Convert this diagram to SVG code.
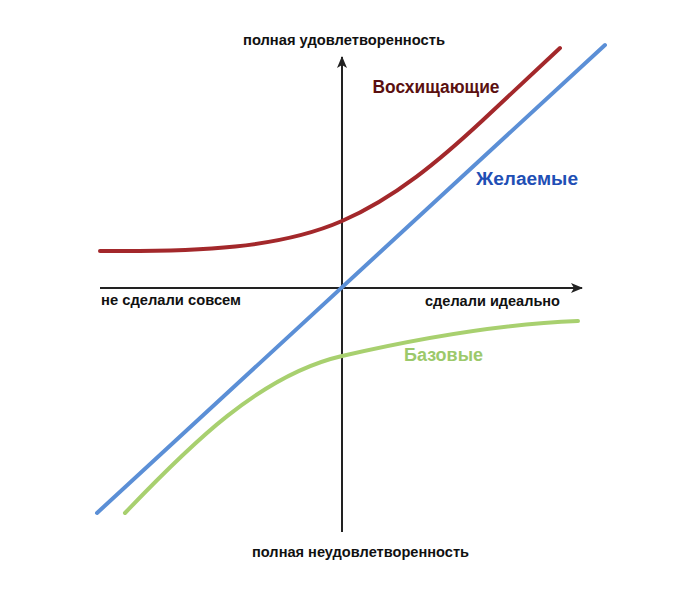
<svg xmlns="http://www.w3.org/2000/svg" width="700" height="590" viewBox="0 0 700 590">
<style>
.ax{font-family:"Liberation Sans",Arial,sans-serif;font-size:14.5px;font-weight:bold;fill:#111}
.lbl{font-family:"Liberation Sans",Arial,sans-serif;font-size:17.5px;font-weight:bold}
.axis{stroke:#222;stroke-width:2;fill:none}
.curve{fill:none;stroke-width:4;stroke-linecap:round}
</style>
<defs>
<marker id="arr" viewBox="0 0 12 10" refX="11" refY="5" markerWidth="12" markerHeight="10" markerUnits="userSpaceOnUse" orient="auto">
<path d="M0,0 L12,5 L0,10 L3,5 Z" fill="#222"/>
</marker>
</defs>
<rect width="700" height="590" fill="#fff"/>
<g id="connectors">
<line class="axis" x1="342" y1="532" x2="342" y2="57" marker-end="url(#arr)"/>
<line class="axis" x1="100" y1="288" x2="582" y2="288" marker-end="url(#arr)"/>
<path id="delight" class="curve" stroke="#a3282b" d="M100,251 C200,252 280,248 342,221 C395,198 440,160 483,120 L560,48"/>
<line id="desired" class="curve" stroke="#5b8fd6" x1="97" y1="513" x2="605" y2="45"/>
<path id="basic" class="curve" stroke="#a8d06f" d="M125,513 C190,445 260,375 342,356 C420,338 500,324 578,321"/>
</g>
<g id="top-label"><text class="ax" x="243" y="45" textLength="202" lengthAdjust="spacingAndGlyphs">полная удовлетворенность</text></g>
<g id="bottom-label"><text class="ax" x="252" y="557" textLength="217" lengthAdjust="spacingAndGlyphs">полная неудовлетворенность</text></g>
<g id="left-label"><text class="ax" x="101" y="305" textLength="140" lengthAdjust="spacingAndGlyphs">не сделали совсем</text></g>
<g id="right-label"><text class="ax" x="425" y="306" textLength="135" lengthAdjust="spacingAndGlyphs">сделали идеально</text></g>
<g id="n-delight"><text class="lbl" x="372.5" y="92.5" fill="#5a1010" textLength="127" lengthAdjust="spacingAndGlyphs">Восхищающие</text></g>
<g id="n-desired"><text class="lbl" x="476" y="184.5" fill="#1f4fb5" textLength="102" lengthAdjust="spacingAndGlyphs">Желаемые</text></g>
<g id="n-basic"><text class="lbl" x="404" y="361" fill="#9cc96b" textLength="79" lengthAdjust="spacingAndGlyphs">Базовые</text></g>
</svg>
